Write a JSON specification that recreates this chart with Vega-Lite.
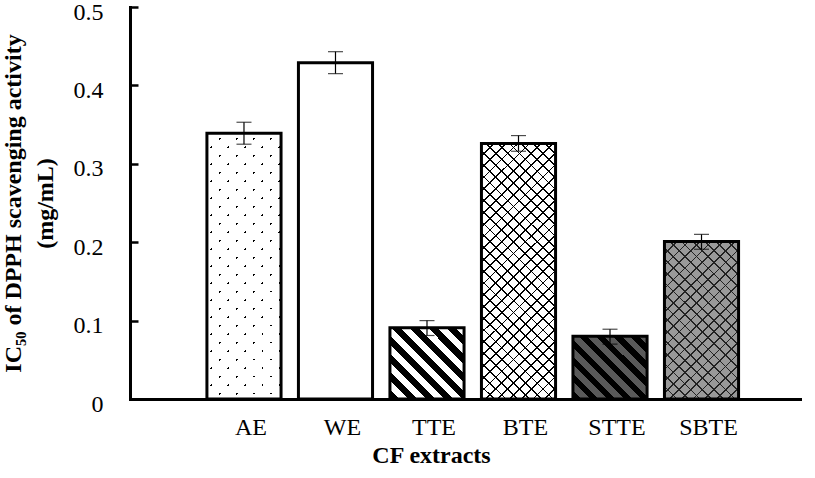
{
"$schema": "https://vega.github.io/schema/vega-lite/v6.json",
"width": 670, "height": 392,
"autosize": "none",
"padding": {"left": 130, "top": 7, "right": 15, "bottom": 79},
"background": "white",
"config": {
  "view": {"stroke": null},
  "font": "Liberation Serif",
  "axisY": {"domainColor": "#000", "domainWidth": 3, "domainCap": "square", "tickColor": "#000", "tickWidth": 2.5, "tickSize": -8, "labelFont": "Liberation Serif", "labelFontSize": 24, "labelColor": "#000", "labelPadding": 35, "labelOffset": 5, "grid": false, "titleFont": "Liberation Serif", "titleFontSize": 24, "titleFontWeight": "bold", "titleColor": "#000"},
  "axisX": {"domainColor": "#000", "domainWidth": 3, "domainCap": "square", "ticks": false, "labelFont": "Liberation Serif", "labelFontSize": 24, "labelColor": "#000", "labelPadding": 16, "labelOffset": 7, "labelAngle": 0, "grid": false, "titleFont": "Liberation Serif", "titleFontSize": 24, "titleFontWeight": "bold", "titleColor": "#000"}
},
"data": {"values": [
  {"cat": "AE", "v": 0.339, "lo": 0.325, "hi": 0.353},
  {"cat": "WE", "v": 0.429, "lo": 0.415, "hi": 0.443},
  {"cat": "TTE", "v": 0.091, "lo": 0.081, "hi": 0.1},
  {"cat": "BTE", "v": 0.326, "lo": 0.316, "hi": 0.336},
  {"cat": "STTE", "v": 0.08, "lo": 0.07, "hi": 0.089},
  {"cat": "SBTE", "v": 0.201, "lo": 0.191, "hi": 0.21}
]},
"encoding": {
  "x": {"field": "cat", "type": "nominal", "title": "CF extracts",
        "scale": {"domain": ["AE", "WE", "TTE", "BTE", "STTE", "SBTE"], "paddingInner": 0.19, "paddingOuter": 0.756, "align": 0.556},
        "axis": {"titleX": 301, "titleY": 63, "titleAlign": "center", "titleBaseline": "alphabetic"}},
  "y": {"field": "v", "type": "quantitative", "title": ["IC₅₀ of DPPH scavenging activity", "(mg/mL)"],
        "scale": {"domain": [0, 0.5], "nice": false},
        "axis": {"values": [0, 0.1, 0.2, 0.3, 0.4, 0.5], "format": ".1~f", "titleX": -110, "titleY": 196, "titleAngle": -90, "titleAlign": "center", "titleBaseline": "alphabetic", "titleLineHeight": 32}}
},
"layer": [
  {"mark": {"type": "bar"},
   "encoding": {"fill": {"field": "cat", "type": "nominal", "legend": null,
     "scale": {"domain": ["AE", "WE", "TTE", "BTE", "STTE", "SBTE"], "range": ["#000000", "#ffffff", "#ffffff", "#ffffff", "#595959", "#999999"]}}}},
  {"transform": [{"filter": "datum.cat === 'AE'"}],
   "mark": {"type": "bar", "fill": {"gradient": "linear", "x1": 0, "y1": 1, "x2": 0.3301, "y2": -0.1868, "stops": [
{"offset":0,"color":"rgba(0,0,0,0)"},{"offset":0.0075,"color":"rgba(0,0,0,0)"},{"offset":0.0075,"color":"#fff"},{"offset":0.05,"color":"#fff"},
{"offset":0.05,"color":"rgba(0,0,0,0)"},{"offset":0.0575,"color":"rgba(0,0,0,0)"},{"offset":0.0575,"color":"#fff"},{"offset":0.1,"color":"#fff"},
{"offset":0.1,"color":"rgba(0,0,0,0)"},{"offset":0.1075,"color":"rgba(0,0,0,0)"},{"offset":0.1075,"color":"#fff"},{"offset":0.15,"color":"#fff"},
{"offset":0.15,"color":"rgba(0,0,0,0)"},{"offset":0.1575,"color":"rgba(0,0,0,0)"},{"offset":0.1575,"color":"#fff"},{"offset":0.2,"color":"#fff"},
{"offset":0.2,"color":"rgba(0,0,0,0)"},{"offset":0.2075,"color":"rgba(0,0,0,0)"},{"offset":0.2075,"color":"#fff"},{"offset":0.25,"color":"#fff"},
{"offset":0.25,"color":"rgba(0,0,0,0)"},{"offset":0.2575,"color":"rgba(0,0,0,0)"},{"offset":0.2575,"color":"#fff"},{"offset":0.3,"color":"#fff"},
{"offset":0.3,"color":"rgba(0,0,0,0)"},{"offset":0.3075,"color":"rgba(0,0,0,0)"},{"offset":0.3075,"color":"#fff"},{"offset":0.35,"color":"#fff"},
{"offset":0.35,"color":"rgba(0,0,0,0)"},{"offset":0.3575,"color":"rgba(0,0,0,0)"},{"offset":0.3575,"color":"#fff"},{"offset":0.4,"color":"#fff"},
{"offset":0.4,"color":"rgba(0,0,0,0)"},{"offset":0.4075,"color":"rgba(0,0,0,0)"},{"offset":0.4075,"color":"#fff"},{"offset":0.45,"color":"#fff"},
{"offset":0.45,"color":"rgba(0,0,0,0)"},{"offset":0.4575,"color":"rgba(0,0,0,0)"},{"offset":0.4575,"color":"#fff"},{"offset":0.5,"color":"#fff"},
{"offset":0.5,"color":"rgba(0,0,0,0)"},{"offset":0.5075,"color":"rgba(0,0,0,0)"},{"offset":0.5075,"color":"#fff"},{"offset":0.55,"color":"#fff"},
{"offset":0.55,"color":"rgba(0,0,0,0)"},{"offset":0.5575,"color":"rgba(0,0,0,0)"},{"offset":0.5575,"color":"#fff"},{"offset":0.6,"color":"#fff"},
{"offset":0.6,"color":"rgba(0,0,0,0)"},{"offset":0.6075,"color":"rgba(0,0,0,0)"},{"offset":0.6075,"color":"#fff"},{"offset":0.65,"color":"#fff"},
{"offset":0.65,"color":"rgba(0,0,0,0)"},{"offset":0.6575,"color":"rgba(0,0,0,0)"},{"offset":0.6575,"color":"#fff"},{"offset":0.7,"color":"#fff"},
{"offset":0.7,"color":"rgba(0,0,0,0)"},{"offset":0.7075,"color":"rgba(0,0,0,0)"},{"offset":0.7075,"color":"#fff"},{"offset":0.75,"color":"#fff"},
{"offset":0.75,"color":"rgba(0,0,0,0)"},{"offset":0.7575,"color":"rgba(0,0,0,0)"},{"offset":0.7575,"color":"#fff"},{"offset":0.8,"color":"#fff"},
{"offset":0.8,"color":"rgba(0,0,0,0)"},{"offset":0.8075,"color":"rgba(0,0,0,0)"},{"offset":0.8075,"color":"#fff"},{"offset":0.85,"color":"#fff"},
{"offset":0.85,"color":"rgba(0,0,0,0)"},{"offset":0.8575,"color":"rgba(0,0,0,0)"},{"offset":0.8575,"color":"#fff"},{"offset":0.9,"color":"#fff"},
{"offset":0.9,"color":"rgba(0,0,0,0)"},{"offset":0.9075,"color":"rgba(0,0,0,0)"},{"offset":0.9075,"color":"#fff"},{"offset":0.95,"color":"#fff"},
{"offset":0.95,"color":"rgba(0,0,0,0)"},{"offset":0.9575,"color":"rgba(0,0,0,0)"},{"offset":0.9575,"color":"#fff"},{"offset":1,"color":"#fff"}
   ]}}},
  {"transform": [{"filter": "datum.cat === 'AE'"}],
   "mark": {"type": "bar", "fill": {"gradient": "linear", "x1": 0, "y1": 0, "x2": 0.3301, "y2": 1.1868, "stops": [
{"offset":0,"color":"rgba(0,0,0,0)"},{"offset":0.0075,"color":"rgba(0,0,0,0)"},{"offset":0.0075,"color":"#fff"},{"offset":0.05,"color":"#fff"},
{"offset":0.05,"color":"rgba(0,0,0,0)"},{"offset":0.0575,"color":"rgba(0,0,0,0)"},{"offset":0.0575,"color":"#fff"},{"offset":0.1,"color":"#fff"},
{"offset":0.1,"color":"rgba(0,0,0,0)"},{"offset":0.1075,"color":"rgba(0,0,0,0)"},{"offset":0.1075,"color":"#fff"},{"offset":0.15,"color":"#fff"},
{"offset":0.15,"color":"rgba(0,0,0,0)"},{"offset":0.1575,"color":"rgba(0,0,0,0)"},{"offset":0.1575,"color":"#fff"},{"offset":0.2,"color":"#fff"},
{"offset":0.2,"color":"rgba(0,0,0,0)"},{"offset":0.2075,"color":"rgba(0,0,0,0)"},{"offset":0.2075,"color":"#fff"},{"offset":0.25,"color":"#fff"},
{"offset":0.25,"color":"rgba(0,0,0,0)"},{"offset":0.2575,"color":"rgba(0,0,0,0)"},{"offset":0.2575,"color":"#fff"},{"offset":0.3,"color":"#fff"},
{"offset":0.3,"color":"rgba(0,0,0,0)"},{"offset":0.3075,"color":"rgba(0,0,0,0)"},{"offset":0.3075,"color":"#fff"},{"offset":0.35,"color":"#fff"},
{"offset":0.35,"color":"rgba(0,0,0,0)"},{"offset":0.3575,"color":"rgba(0,0,0,0)"},{"offset":0.3575,"color":"#fff"},{"offset":0.4,"color":"#fff"},
{"offset":0.4,"color":"rgba(0,0,0,0)"},{"offset":0.4075,"color":"rgba(0,0,0,0)"},{"offset":0.4075,"color":"#fff"},{"offset":0.45,"color":"#fff"},
{"offset":0.45,"color":"rgba(0,0,0,0)"},{"offset":0.4575,"color":"rgba(0,0,0,0)"},{"offset":0.4575,"color":"#fff"},{"offset":0.5,"color":"#fff"},
{"offset":0.5,"color":"rgba(0,0,0,0)"},{"offset":0.5075,"color":"rgba(0,0,0,0)"},{"offset":0.5075,"color":"#fff"},{"offset":0.55,"color":"#fff"},
{"offset":0.55,"color":"rgba(0,0,0,0)"},{"offset":0.5575,"color":"rgba(0,0,0,0)"},{"offset":0.5575,"color":"#fff"},{"offset":0.6,"color":"#fff"},
{"offset":0.6,"color":"rgba(0,0,0,0)"},{"offset":0.6075,"color":"rgba(0,0,0,0)"},{"offset":0.6075,"color":"#fff"},{"offset":0.65,"color":"#fff"},
{"offset":0.65,"color":"rgba(0,0,0,0)"},{"offset":0.6575,"color":"rgba(0,0,0,0)"},{"offset":0.6575,"color":"#fff"},{"offset":0.7,"color":"#fff"},
{"offset":0.7,"color":"rgba(0,0,0,0)"},{"offset":0.7075,"color":"rgba(0,0,0,0)"},{"offset":0.7075,"color":"#fff"},{"offset":0.75,"color":"#fff"},
{"offset":0.75,"color":"rgba(0,0,0,0)"},{"offset":0.7575,"color":"rgba(0,0,0,0)"},{"offset":0.7575,"color":"#fff"},{"offset":0.8,"color":"#fff"},
{"offset":0.8,"color":"rgba(0,0,0,0)"},{"offset":0.8075,"color":"rgba(0,0,0,0)"},{"offset":0.8075,"color":"#fff"},{"offset":0.85,"color":"#fff"},
{"offset":0.85,"color":"rgba(0,0,0,0)"},{"offset":0.8575,"color":"rgba(0,0,0,0)"},{"offset":0.8575,"color":"#fff"},{"offset":0.9,"color":"#fff"},
{"offset":0.9,"color":"rgba(0,0,0,0)"},{"offset":0.9075,"color":"rgba(0,0,0,0)"},{"offset":0.9075,"color":"#fff"},{"offset":0.95,"color":"#fff"},
{"offset":0.95,"color":"rgba(0,0,0,0)"},{"offset":0.9575,"color":"rgba(0,0,0,0)"},{"offset":0.9575,"color":"#fff"},{"offset":1,"color":"#fff"}
   ]}}},
  {"transform": [{"filter": "datum.cat === 'TTE'"}],
   "mark": {"type": "bar", "fill": {"gradient": "linear", "x1": 0, "y1": 1, "x2": 1.02, "y2": 0.022, "stops": [
{"offset":0,"color":"#000"},{"offset":0.0625,"color":"#000"},{"offset":0.0625,"color":"#fff"},{"offset":0.125,"color":"#fff"},
{"offset":0.125,"color":"#000"},{"offset":0.1875,"color":"#000"},{"offset":0.1875,"color":"#fff"},{"offset":0.25,"color":"#fff"},
{"offset":0.25,"color":"#000"},{"offset":0.3125,"color":"#000"},{"offset":0.3125,"color":"#fff"},{"offset":0.375,"color":"#fff"},
{"offset":0.375,"color":"#000"},{"offset":0.4375,"color":"#000"},{"offset":0.4375,"color":"#fff"},{"offset":0.5,"color":"#fff"},
{"offset":0.5,"color":"#000"},{"offset":0.5625,"color":"#000"},{"offset":0.5625,"color":"#fff"},{"offset":0.625,"color":"#fff"},
{"offset":0.625,"color":"#000"},{"offset":0.6875,"color":"#000"},{"offset":0.6875,"color":"#fff"},{"offset":0.75,"color":"#fff"},
{"offset":0.75,"color":"#000"},{"offset":0.8125,"color":"#000"},{"offset":0.8125,"color":"#fff"},{"offset":0.875,"color":"#fff"},
{"offset":0.875,"color":"#000"},{"offset":0.9375,"color":"#000"},{"offset":0.9375,"color":"#fff"},{"offset":1,"color":"#fff"}
   ]}}},
  {"transform": [{"filter": "datum.cat === 'BTE'"}],
   "mark": {"type": "bar", "fill": {"gradient": "linear", "x1": 0, "y1": 1, "x2": 0.3445, "y2": -0.19, "stops": [
{"offset":0,"color":"#000"},{"offset":0.0054,"color":"#000"},{"offset":0.0054,"color":"rgba(0,0,0,0)"},{"offset":0.0357,"color":"rgba(0,0,0,0)"},
{"offset":0.0357,"color":"#000"},{"offset":0.0411,"color":"#000"},{"offset":0.0411,"color":"rgba(0,0,0,0)"},{"offset":0.0714,"color":"rgba(0,0,0,0)"},
{"offset":0.0714,"color":"#000"},{"offset":0.0768,"color":"#000"},{"offset":0.0768,"color":"rgba(0,0,0,0)"},{"offset":0.1071,"color":"rgba(0,0,0,0)"},
{"offset":0.1071,"color":"#000"},{"offset":0.1125,"color":"#000"},{"offset":0.1125,"color":"rgba(0,0,0,0)"},{"offset":0.1429,"color":"rgba(0,0,0,0)"},
{"offset":0.1429,"color":"#000"},{"offset":0.1483,"color":"#000"},{"offset":0.1483,"color":"rgba(0,0,0,0)"},{"offset":0.1786,"color":"rgba(0,0,0,0)"},
{"offset":0.1786,"color":"#000"},{"offset":0.184,"color":"#000"},{"offset":0.184,"color":"rgba(0,0,0,0)"},{"offset":0.2143,"color":"rgba(0,0,0,0)"},
{"offset":0.2143,"color":"#000"},{"offset":0.2197,"color":"#000"},{"offset":0.2197,"color":"rgba(0,0,0,0)"},{"offset":0.25,"color":"rgba(0,0,0,0)"},
{"offset":0.25,"color":"#000"},{"offset":0.2554,"color":"#000"},{"offset":0.2554,"color":"rgba(0,0,0,0)"},{"offset":0.2857,"color":"rgba(0,0,0,0)"},
{"offset":0.2857,"color":"#000"},{"offset":0.2911,"color":"#000"},{"offset":0.2911,"color":"rgba(0,0,0,0)"},{"offset":0.3214,"color":"rgba(0,0,0,0)"},
{"offset":0.3214,"color":"#000"},{"offset":0.3268,"color":"#000"},{"offset":0.3268,"color":"rgba(0,0,0,0)"},{"offset":0.3571,"color":"rgba(0,0,0,0)"},
{"offset":0.3571,"color":"#000"},{"offset":0.3625,"color":"#000"},{"offset":0.3625,"color":"rgba(0,0,0,0)"},{"offset":0.3929,"color":"rgba(0,0,0,0)"},
{"offset":0.3929,"color":"#000"},{"offset":0.3983,"color":"#000"},{"offset":0.3983,"color":"rgba(0,0,0,0)"},{"offset":0.4286,"color":"rgba(0,0,0,0)"},
{"offset":0.4286,"color":"#000"},{"offset":0.434,"color":"#000"},{"offset":0.434,"color":"rgba(0,0,0,0)"},{"offset":0.4643,"color":"rgba(0,0,0,0)"},
{"offset":0.4643,"color":"#000"},{"offset":0.4697,"color":"#000"},{"offset":0.4697,"color":"rgba(0,0,0,0)"},{"offset":0.5,"color":"rgba(0,0,0,0)"},
{"offset":0.5,"color":"#000"},{"offset":0.5054,"color":"#000"},{"offset":0.5054,"color":"rgba(0,0,0,0)"},{"offset":0.5357,"color":"rgba(0,0,0,0)"},
{"offset":0.5357,"color":"#000"},{"offset":0.5411,"color":"#000"},{"offset":0.5411,"color":"rgba(0,0,0,0)"},{"offset":0.5714,"color":"rgba(0,0,0,0)"},
{"offset":0.5714,"color":"#000"},{"offset":0.5768,"color":"#000"},{"offset":0.5768,"color":"rgba(0,0,0,0)"},{"offset":0.6071,"color":"rgba(0,0,0,0)"},
{"offset":0.6071,"color":"#000"},{"offset":0.6125,"color":"#000"},{"offset":0.6125,"color":"rgba(0,0,0,0)"},{"offset":0.6429,"color":"rgba(0,0,0,0)"},
{"offset":0.6429,"color":"#000"},{"offset":0.6483,"color":"#000"},{"offset":0.6483,"color":"rgba(0,0,0,0)"},{"offset":0.6786,"color":"rgba(0,0,0,0)"},
{"offset":0.6786,"color":"#000"},{"offset":0.684,"color":"#000"},{"offset":0.684,"color":"rgba(0,0,0,0)"},{"offset":0.7143,"color":"rgba(0,0,0,0)"},
{"offset":0.7143,"color":"#000"},{"offset":0.7197,"color":"#000"},{"offset":0.7197,"color":"rgba(0,0,0,0)"},{"offset":0.75,"color":"rgba(0,0,0,0)"},
{"offset":0.75,"color":"#000"},{"offset":0.7554,"color":"#000"},{"offset":0.7554,"color":"rgba(0,0,0,0)"},{"offset":0.7857,"color":"rgba(0,0,0,0)"},
{"offset":0.7857,"color":"#000"},{"offset":0.7911,"color":"#000"},{"offset":0.7911,"color":"rgba(0,0,0,0)"},{"offset":0.8214,"color":"rgba(0,0,0,0)"},
{"offset":0.8214,"color":"#000"},{"offset":0.8268,"color":"#000"},{"offset":0.8268,"color":"rgba(0,0,0,0)"},{"offset":0.8571,"color":"rgba(0,0,0,0)"},
{"offset":0.8571,"color":"#000"},{"offset":0.8625,"color":"#000"},{"offset":0.8625,"color":"rgba(0,0,0,0)"},{"offset":0.8929,"color":"rgba(0,0,0,0)"},
{"offset":0.8929,"color":"#000"},{"offset":0.8983,"color":"#000"},{"offset":0.8983,"color":"rgba(0,0,0,0)"},{"offset":0.9286,"color":"rgba(0,0,0,0)"},
{"offset":0.9286,"color":"#000"},{"offset":0.934,"color":"#000"},{"offset":0.934,"color":"rgba(0,0,0,0)"},{"offset":0.9643,"color":"rgba(0,0,0,0)"},
{"offset":0.9643,"color":"#000"},{"offset":0.9697,"color":"#000"},{"offset":0.9697,"color":"rgba(0,0,0,0)"},{"offset":1,"color":"rgba(0,0,0,0)"}
   ]}}},
  {"transform": [{"filter": "datum.cat === 'BTE'"}],
   "mark": {"type": "bar", "fill": {"gradient": "linear", "x1": 0, "y1": 0, "x2": 0.3445, "y2": 1.19, "stops": [
{"offset":0,"color":"#000"},{"offset":0.0054,"color":"#000"},{"offset":0.0054,"color":"rgba(0,0,0,0)"},{"offset":0.0357,"color":"rgba(0,0,0,0)"},
{"offset":0.0357,"color":"#000"},{"offset":0.0411,"color":"#000"},{"offset":0.0411,"color":"rgba(0,0,0,0)"},{"offset":0.0714,"color":"rgba(0,0,0,0)"},
{"offset":0.0714,"color":"#000"},{"offset":0.0768,"color":"#000"},{"offset":0.0768,"color":"rgba(0,0,0,0)"},{"offset":0.1071,"color":"rgba(0,0,0,0)"},
{"offset":0.1071,"color":"#000"},{"offset":0.1125,"color":"#000"},{"offset":0.1125,"color":"rgba(0,0,0,0)"},{"offset":0.1429,"color":"rgba(0,0,0,0)"},
{"offset":0.1429,"color":"#000"},{"offset":0.1483,"color":"#000"},{"offset":0.1483,"color":"rgba(0,0,0,0)"},{"offset":0.1786,"color":"rgba(0,0,0,0)"},
{"offset":0.1786,"color":"#000"},{"offset":0.184,"color":"#000"},{"offset":0.184,"color":"rgba(0,0,0,0)"},{"offset":0.2143,"color":"rgba(0,0,0,0)"},
{"offset":0.2143,"color":"#000"},{"offset":0.2197,"color":"#000"},{"offset":0.2197,"color":"rgba(0,0,0,0)"},{"offset":0.25,"color":"rgba(0,0,0,0)"},
{"offset":0.25,"color":"#000"},{"offset":0.2554,"color":"#000"},{"offset":0.2554,"color":"rgba(0,0,0,0)"},{"offset":0.2857,"color":"rgba(0,0,0,0)"},
{"offset":0.2857,"color":"#000"},{"offset":0.2911,"color":"#000"},{"offset":0.2911,"color":"rgba(0,0,0,0)"},{"offset":0.3214,"color":"rgba(0,0,0,0)"},
{"offset":0.3214,"color":"#000"},{"offset":0.3268,"color":"#000"},{"offset":0.3268,"color":"rgba(0,0,0,0)"},{"offset":0.3571,"color":"rgba(0,0,0,0)"},
{"offset":0.3571,"color":"#000"},{"offset":0.3625,"color":"#000"},{"offset":0.3625,"color":"rgba(0,0,0,0)"},{"offset":0.3929,"color":"rgba(0,0,0,0)"},
{"offset":0.3929,"color":"#000"},{"offset":0.3983,"color":"#000"},{"offset":0.3983,"color":"rgba(0,0,0,0)"},{"offset":0.4286,"color":"rgba(0,0,0,0)"},
{"offset":0.4286,"color":"#000"},{"offset":0.434,"color":"#000"},{"offset":0.434,"color":"rgba(0,0,0,0)"},{"offset":0.4643,"color":"rgba(0,0,0,0)"},
{"offset":0.4643,"color":"#000"},{"offset":0.4697,"color":"#000"},{"offset":0.4697,"color":"rgba(0,0,0,0)"},{"offset":0.5,"color":"rgba(0,0,0,0)"},
{"offset":0.5,"color":"#000"},{"offset":0.5054,"color":"#000"},{"offset":0.5054,"color":"rgba(0,0,0,0)"},{"offset":0.5357,"color":"rgba(0,0,0,0)"},
{"offset":0.5357,"color":"#000"},{"offset":0.5411,"color":"#000"},{"offset":0.5411,"color":"rgba(0,0,0,0)"},{"offset":0.5714,"color":"rgba(0,0,0,0)"},
{"offset":0.5714,"color":"#000"},{"offset":0.5768,"color":"#000"},{"offset":0.5768,"color":"rgba(0,0,0,0)"},{"offset":0.6071,"color":"rgba(0,0,0,0)"},
{"offset":0.6071,"color":"#000"},{"offset":0.6125,"color":"#000"},{"offset":0.6125,"color":"rgba(0,0,0,0)"},{"offset":0.6429,"color":"rgba(0,0,0,0)"},
{"offset":0.6429,"color":"#000"},{"offset":0.6483,"color":"#000"},{"offset":0.6483,"color":"rgba(0,0,0,0)"},{"offset":0.6786,"color":"rgba(0,0,0,0)"},
{"offset":0.6786,"color":"#000"},{"offset":0.684,"color":"#000"},{"offset":0.684,"color":"rgba(0,0,0,0)"},{"offset":0.7143,"color":"rgba(0,0,0,0)"},
{"offset":0.7143,"color":"#000"},{"offset":0.7197,"color":"#000"},{"offset":0.7197,"color":"rgba(0,0,0,0)"},{"offset":0.75,"color":"rgba(0,0,0,0)"},
{"offset":0.75,"color":"#000"},{"offset":0.7554,"color":"#000"},{"offset":0.7554,"color":"rgba(0,0,0,0)"},{"offset":0.7857,"color":"rgba(0,0,0,0)"},
{"offset":0.7857,"color":"#000"},{"offset":0.7911,"color":"#000"},{"offset":0.7911,"color":"rgba(0,0,0,0)"},{"offset":0.8214,"color":"rgba(0,0,0,0)"},
{"offset":0.8214,"color":"#000"},{"offset":0.8268,"color":"#000"},{"offset":0.8268,"color":"rgba(0,0,0,0)"},{"offset":0.8571,"color":"rgba(0,0,0,0)"},
{"offset":0.8571,"color":"#000"},{"offset":0.8625,"color":"#000"},{"offset":0.8625,"color":"rgba(0,0,0,0)"},{"offset":0.8929,"color":"rgba(0,0,0,0)"},
{"offset":0.8929,"color":"#000"},{"offset":0.8983,"color":"#000"},{"offset":0.8983,"color":"rgba(0,0,0,0)"},{"offset":0.9286,"color":"rgba(0,0,0,0)"},
{"offset":0.9286,"color":"#000"},{"offset":0.934,"color":"#000"},{"offset":0.934,"color":"rgba(0,0,0,0)"},{"offset":0.9643,"color":"rgba(0,0,0,0)"},
{"offset":0.9643,"color":"#000"},{"offset":0.9697,"color":"#000"},{"offset":0.9697,"color":"rgba(0,0,0,0)"},{"offset":1,"color":"rgba(0,0,0,0)"}
   ]}}},
  {"transform": [{"filter": "datum.cat === 'STTE'"}],
   "mark": {"type": "bar", "fill": {"gradient": "linear", "x1": 0, "y1": 1, "x2": 1.075, "y2": 0.089, "stops": [
{"offset":0,"color":"#000"},{"offset":0.0625,"color":"#000"},{"offset":0.0625,"color":"#595959"},{"offset":0.125,"color":"#595959"},
{"offset":0.125,"color":"#000"},{"offset":0.1875,"color":"#000"},{"offset":0.1875,"color":"#595959"},{"offset":0.25,"color":"#595959"},
{"offset":0.25,"color":"#000"},{"offset":0.3125,"color":"#000"},{"offset":0.3125,"color":"#595959"},{"offset":0.375,"color":"#595959"},
{"offset":0.375,"color":"#000"},{"offset":0.4375,"color":"#000"},{"offset":0.4375,"color":"#595959"},{"offset":0.5,"color":"#595959"},
{"offset":0.5,"color":"#000"},{"offset":0.5625,"color":"#000"},{"offset":0.5625,"color":"#595959"},{"offset":0.625,"color":"#595959"},
{"offset":0.625,"color":"#000"},{"offset":0.6875,"color":"#000"},{"offset":0.6875,"color":"#595959"},{"offset":0.75,"color":"#595959"},
{"offset":0.75,"color":"#000"},{"offset":0.8125,"color":"#000"},{"offset":0.8125,"color":"#595959"},{"offset":0.875,"color":"#595959"},
{"offset":0.875,"color":"#000"},{"offset":0.9375,"color":"#000"},{"offset":0.9375,"color":"#595959"},{"offset":1,"color":"#595959"}
   ]}}},
  {"transform": [{"filter": "datum.cat === 'SBTE'"}],
   "mark": {"type": "bar", "fill": {"gradient": "linear", "x1": 0, "y1": 1, "x2": 0.5653, "y2": -0.204, "stops": [
{"offset":0,"color":"#222"},{"offset":0.0075,"color":"#222"},{"offset":0.0075,"color":"rgba(0,0,0,0)"},{"offset":0.05,"color":"rgba(0,0,0,0)"},
{"offset":0.05,"color":"#222"},{"offset":0.0575,"color":"#222"},{"offset":0.0575,"color":"rgba(0,0,0,0)"},{"offset":0.1,"color":"rgba(0,0,0,0)"},
{"offset":0.1,"color":"#222"},{"offset":0.1075,"color":"#222"},{"offset":0.1075,"color":"rgba(0,0,0,0)"},{"offset":0.15,"color":"rgba(0,0,0,0)"},
{"offset":0.15,"color":"#222"},{"offset":0.1575,"color":"#222"},{"offset":0.1575,"color":"rgba(0,0,0,0)"},{"offset":0.2,"color":"rgba(0,0,0,0)"},
{"offset":0.2,"color":"#222"},{"offset":0.2075,"color":"#222"},{"offset":0.2075,"color":"rgba(0,0,0,0)"},{"offset":0.25,"color":"rgba(0,0,0,0)"},
{"offset":0.25,"color":"#222"},{"offset":0.2575,"color":"#222"},{"offset":0.2575,"color":"rgba(0,0,0,0)"},{"offset":0.3,"color":"rgba(0,0,0,0)"},
{"offset":0.3,"color":"#222"},{"offset":0.3075,"color":"#222"},{"offset":0.3075,"color":"rgba(0,0,0,0)"},{"offset":0.35,"color":"rgba(0,0,0,0)"},
{"offset":0.35,"color":"#222"},{"offset":0.3575,"color":"#222"},{"offset":0.3575,"color":"rgba(0,0,0,0)"},{"offset":0.4,"color":"rgba(0,0,0,0)"},
{"offset":0.4,"color":"#222"},{"offset":0.4075,"color":"#222"},{"offset":0.4075,"color":"rgba(0,0,0,0)"},{"offset":0.45,"color":"rgba(0,0,0,0)"},
{"offset":0.45,"color":"#222"},{"offset":0.4575,"color":"#222"},{"offset":0.4575,"color":"rgba(0,0,0,0)"},{"offset":0.5,"color":"rgba(0,0,0,0)"},
{"offset":0.5,"color":"#222"},{"offset":0.5075,"color":"#222"},{"offset":0.5075,"color":"rgba(0,0,0,0)"},{"offset":0.55,"color":"rgba(0,0,0,0)"},
{"offset":0.55,"color":"#222"},{"offset":0.5575,"color":"#222"},{"offset":0.5575,"color":"rgba(0,0,0,0)"},{"offset":0.6,"color":"rgba(0,0,0,0)"},
{"offset":0.6,"color":"#222"},{"offset":0.6075,"color":"#222"},{"offset":0.6075,"color":"rgba(0,0,0,0)"},{"offset":0.65,"color":"rgba(0,0,0,0)"},
{"offset":0.65,"color":"#222"},{"offset":0.6575,"color":"#222"},{"offset":0.6575,"color":"rgba(0,0,0,0)"},{"offset":0.7,"color":"rgba(0,0,0,0)"},
{"offset":0.7,"color":"#222"},{"offset":0.7075,"color":"#222"},{"offset":0.7075,"color":"rgba(0,0,0,0)"},{"offset":0.75,"color":"rgba(0,0,0,0)"},
{"offset":0.75,"color":"#222"},{"offset":0.7575,"color":"#222"},{"offset":0.7575,"color":"rgba(0,0,0,0)"},{"offset":0.8,"color":"rgba(0,0,0,0)"},
{"offset":0.8,"color":"#222"},{"offset":0.8075,"color":"#222"},{"offset":0.8075,"color":"rgba(0,0,0,0)"},{"offset":0.85,"color":"rgba(0,0,0,0)"},
{"offset":0.85,"color":"#222"},{"offset":0.8575,"color":"#222"},{"offset":0.8575,"color":"rgba(0,0,0,0)"},{"offset":0.9,"color":"rgba(0,0,0,0)"},
{"offset":0.9,"color":"#222"},{"offset":0.9075,"color":"#222"},{"offset":0.9075,"color":"rgba(0,0,0,0)"},{"offset":0.95,"color":"rgba(0,0,0,0)"},
{"offset":0.95,"color":"#222"},{"offset":0.9575,"color":"#222"},{"offset":0.9575,"color":"rgba(0,0,0,0)"},{"offset":1,"color":"rgba(0,0,0,0)"}
   ]}}},
  {"transform": [{"filter": "datum.cat === 'SBTE'"}],
   "mark": {"type": "bar", "fill": {"gradient": "linear", "x1": 0, "y1": 0, "x2": 0.5653, "y2": 1.204, "stops": [
{"offset":0,"color":"#222"},{"offset":0.0075,"color":"#222"},{"offset":0.0075,"color":"rgba(0,0,0,0)"},{"offset":0.05,"color":"rgba(0,0,0,0)"},
{"offset":0.05,"color":"#222"},{"offset":0.0575,"color":"#222"},{"offset":0.0575,"color":"rgba(0,0,0,0)"},{"offset":0.1,"color":"rgba(0,0,0,0)"},
{"offset":0.1,"color":"#222"},{"offset":0.1075,"color":"#222"},{"offset":0.1075,"color":"rgba(0,0,0,0)"},{"offset":0.15,"color":"rgba(0,0,0,0)"},
{"offset":0.15,"color":"#222"},{"offset":0.1575,"color":"#222"},{"offset":0.1575,"color":"rgba(0,0,0,0)"},{"offset":0.2,"color":"rgba(0,0,0,0)"},
{"offset":0.2,"color":"#222"},{"offset":0.2075,"color":"#222"},{"offset":0.2075,"color":"rgba(0,0,0,0)"},{"offset":0.25,"color":"rgba(0,0,0,0)"},
{"offset":0.25,"color":"#222"},{"offset":0.2575,"color":"#222"},{"offset":0.2575,"color":"rgba(0,0,0,0)"},{"offset":0.3,"color":"rgba(0,0,0,0)"},
{"offset":0.3,"color":"#222"},{"offset":0.3075,"color":"#222"},{"offset":0.3075,"color":"rgba(0,0,0,0)"},{"offset":0.35,"color":"rgba(0,0,0,0)"},
{"offset":0.35,"color":"#222"},{"offset":0.3575,"color":"#222"},{"offset":0.3575,"color":"rgba(0,0,0,0)"},{"offset":0.4,"color":"rgba(0,0,0,0)"},
{"offset":0.4,"color":"#222"},{"offset":0.4075,"color":"#222"},{"offset":0.4075,"color":"rgba(0,0,0,0)"},{"offset":0.45,"color":"rgba(0,0,0,0)"},
{"offset":0.45,"color":"#222"},{"offset":0.4575,"color":"#222"},{"offset":0.4575,"color":"rgba(0,0,0,0)"},{"offset":0.5,"color":"rgba(0,0,0,0)"},
{"offset":0.5,"color":"#222"},{"offset":0.5075,"color":"#222"},{"offset":0.5075,"color":"rgba(0,0,0,0)"},{"offset":0.55,"color":"rgba(0,0,0,0)"},
{"offset":0.55,"color":"#222"},{"offset":0.5575,"color":"#222"},{"offset":0.5575,"color":"rgba(0,0,0,0)"},{"offset":0.6,"color":"rgba(0,0,0,0)"},
{"offset":0.6,"color":"#222"},{"offset":0.6075,"color":"#222"},{"offset":0.6075,"color":"rgba(0,0,0,0)"},{"offset":0.65,"color":"rgba(0,0,0,0)"},
{"offset":0.65,"color":"#222"},{"offset":0.6575,"color":"#222"},{"offset":0.6575,"color":"rgba(0,0,0,0)"},{"offset":0.7,"color":"rgba(0,0,0,0)"},
{"offset":0.7,"color":"#222"},{"offset":0.7075,"color":"#222"},{"offset":0.7075,"color":"rgba(0,0,0,0)"},{"offset":0.75,"color":"rgba(0,0,0,0)"},
{"offset":0.75,"color":"#222"},{"offset":0.7575,"color":"#222"},{"offset":0.7575,"color":"rgba(0,0,0,0)"},{"offset":0.8,"color":"rgba(0,0,0,0)"},
{"offset":0.8,"color":"#222"},{"offset":0.8075,"color":"#222"},{"offset":0.8075,"color":"rgba(0,0,0,0)"},{"offset":0.85,"color":"rgba(0,0,0,0)"},
{"offset":0.85,"color":"#222"},{"offset":0.8575,"color":"#222"},{"offset":0.8575,"color":"rgba(0,0,0,0)"},{"offset":0.9,"color":"rgba(0,0,0,0)"},
{"offset":0.9,"color":"#222"},{"offset":0.9075,"color":"#222"},{"offset":0.9075,"color":"rgba(0,0,0,0)"},{"offset":0.95,"color":"rgba(0,0,0,0)"},
{"offset":0.95,"color":"#222"},{"offset":0.9575,"color":"#222"},{"offset":0.9575,"color":"rgba(0,0,0,0)"},{"offset":1,"color":"rgba(0,0,0,0)"}
   ]}}},
  {"mark": {"type": "bar", "fill": "transparent", "stroke": "#000", "strokeWidth": 3}},
  {"mark": {"type": "rule", "color": "#000", "strokeWidth": 1.2},
   "encoding": {"y": {"field": "lo", "type": "quantitative"}, "y2": {"field": "hi"}}},
  {"mark": {"type": "tick", "color": "#000", "size": 15, "thickness": 1.2},
   "encoding": {"y": {"field": "lo", "type": "quantitative"}}},
  {"mark": {"type": "tick", "color": "#000", "size": 15, "thickness": 1.2},
   "encoding": {"y": {"field": "hi", "type": "quantitative"}}}
]
}
